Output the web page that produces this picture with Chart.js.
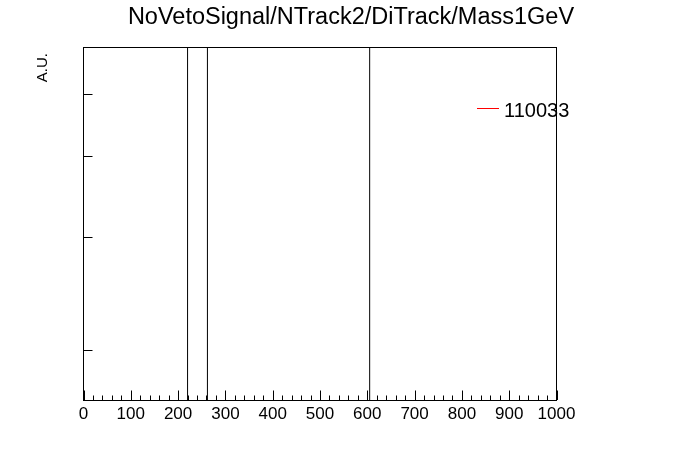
<!DOCTYPE html>
<html>
<head>
<meta charset="utf-8">
<script src="https://cdn.jsdelivr.net/npm/chart.js@4/dist/chart.umd.min.js"></script>
<style>
  html, body { margin: 0; padding: 0; background: #fff; }
  canvas { display: block; }
</style>
</head>
<body>
<canvas id="massChart" width="696" height="472"></canvas>
<script>
// histogram data
const histTitle = 'NoVetoSignal/NTrack2/DiTrack/Mass1GeV';
const yTitle = 'A.U.';
const sampleName = '110033';
const spikeMass = [220, 262, 605];      // bins that shoot off the top
const spikeCounts = [20, 20, 20];
const sampleMass = [0, 1000];           // red histogram, empty everywhere
const sampleCounts = [0, 0];
const xRange = [0, 1000];
const yRange = [1.67, 5.9];
const yTicks = [2, 3, 4, 5];

Chart.defaults.font.family = "'Liberation Sans', Arial, sans-serif";
Chart.defaults.color = '#000';

// ROOT-like frame, inner tick marks, title, legend
const rootStyle = {
    id: 'rootStyle',
    beforeDatasetsDraw(chart) {
        const a = chart.chartArea;
        const ctx = chart.ctx;
        ctx.save();
        ctx.strokeStyle = '#000';
        ctx.lineWidth = 1;
        ctx.strokeRect(a.left, a.top, a.right - a.left, a.bottom - a.top);
        ctx.restore();
    },
    afterDraw(chart) {
        const a = chart.chartArea;
        const ctx = chart.ctx;
        const x = chart.scales.x;
        const y = chart.scales.y;
        ctx.save();
        ctx.strokeStyle = '#000';
        ctx.lineWidth = 1;
        ctx.beginPath();
        for (let v = xRange[0]; v <= xRange[1]; v += 20) {
            const px = Math.round(x.getPixelForValue(v)) + 0.5;
            const len = v % 100 === 0 ? 10 : 5;
            ctx.moveTo(px, a.bottom - 0.5);
            ctx.lineTo(px, a.bottom - len);
        }
        yTicks.forEach(function(v) {
            const py = Math.round(y.getPixelForValue(v)) + 0.5;
            ctx.moveTo(a.left, py);
            ctx.lineTo(a.left + 9, py);
        });
        ctx.stroke();

        ctx.fillStyle = '#000';
        ctx.font = "23.5px 'Liberation Sans', Arial, sans-serif";
        ctx.textAlign = 'center';
        ctx.textBaseline = 'alphabetic';
        ctx.fillText(histTitle, 351, 24);

        ctx.save();
        ctx.translate(47, 53);
        ctx.rotate(-Math.PI / 2);
        ctx.font = "15px 'Liberation Sans', Arial, sans-serif";
        ctx.textAlign = 'right';
        ctx.fillText(yTitle, 0, 0);
        ctx.restore();

        // legend entry
        ctx.strokeStyle = chart.data.datasets[1].borderColor;
        ctx.beginPath();
        ctx.moveTo(477, 108.5);
        ctx.lineTo(499, 108.5);
        ctx.stroke();
        ctx.font = "20px 'Liberation Sans', Arial, sans-serif";
        ctx.textAlign = 'left';
        ctx.fillText(chart.data.datasets[1].label, 504, 117);
        ctx.restore();
    }
};

const ctx = document.getElementById('massChart').getContext('2d');
new Chart(ctx, {
    type: 'bar',
    data: {
        datasets: [{
            label: 'spikes',
            data: spikeMass.map(function(m, i) { return {x: m, y: spikeCounts[i]}; }),
            backgroundColor: '#000',
            barThickness: 1,
            inflateAmount: 0
        }, {
            type: 'line',
            label: sampleName,
            data: sampleMass.map(function(m, i) { return {x: m, y: sampleCounts[i]}; }),
            borderColor: '#ff0000',
            borderWidth: 1,
            pointRadius: 0,
            clip: false
        }]
    },
    plugins: [rootStyle],
    options: {
        responsive: false,
        animation: false,
        layout: { padding: { left: 83.5, right: 139.5, top: 47.5, bottom: 0 } },
        plugins: {
            legend: { display: false },
            title: { display: false },
            tooltip: { enabled: false }
        },
        scales: {
            x: {
                type: 'linear',
                min: xRange[0],
                max: xRange[1],
                offset: false,
                grid: { display: false, drawTicks: false },
                border: { display: false },
                ticks: {
                    stepSize: 100,
                    autoSkip: false,
                    maxRotation: 0,
                    padding: 4,
                    font: { size: 17 },
                    callback: function(v) { return String(v); }
                },
                afterFit: function(s) { s.height = 71.5; }
            },
            y: {
                type: 'logarithmic',
                min: yRange[0],
                max: yRange[1],
                grid: { display: false, drawTicks: false },
                border: { display: false },
                ticks: { display: false },
                afterFit: function(s) { s.width = 0; }
            }
        }
    }
});
</script>
</body>
</html>
